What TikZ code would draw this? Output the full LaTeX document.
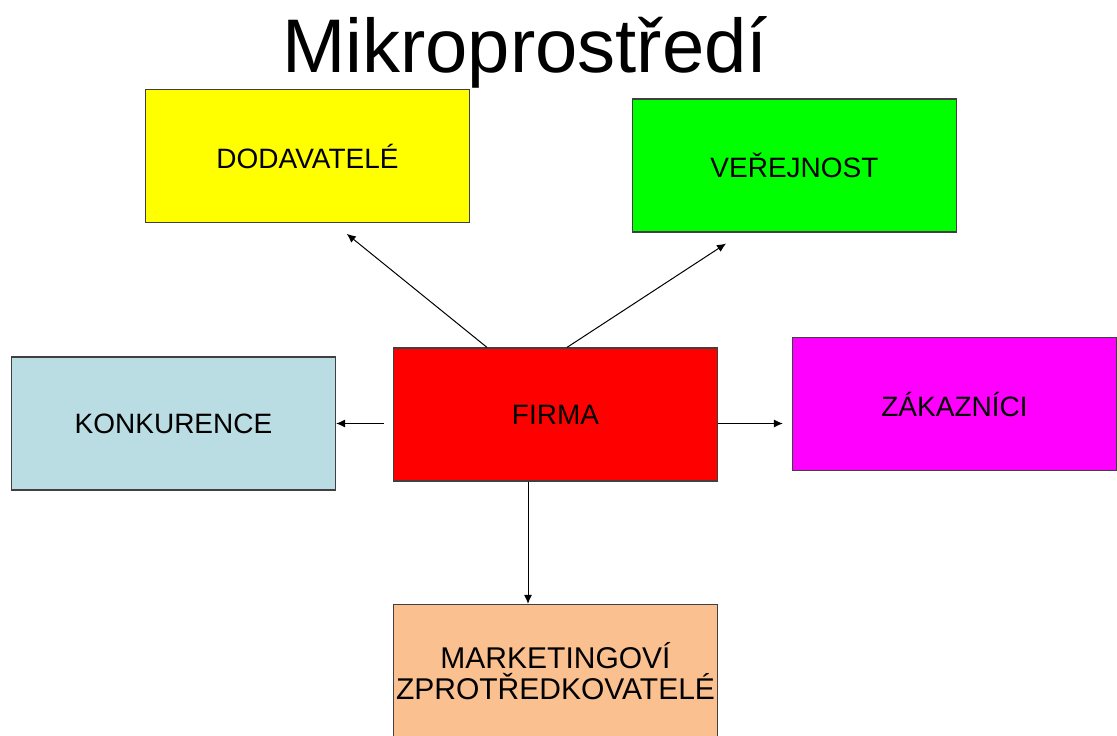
\documentclass[tikz,border=0pt]{standalone}
\usepackage{fontspec}
\setmainfont{Liberation Sans}
\usetikzlibrary{arrows.meta}

\definecolor{dodyellow}{HTML}{FFFF00}
\definecolor{vergreen}{HTML}{00FF00}
\definecolor{konblue}{HTML}{B9DDE3}
\definecolor{firmared}{HTML}{FF0000}
\definecolor{zakmagenta}{HTML}{FF00FF}
\definecolor{markpeach}{HTML}{FAC08F}

\tikzset{
    box/.style={draw=black!75, line width=1.2pt, inner sep=0pt,
        minimum width=324pt, minimum height=133pt, align=center,
        font=\fontsize{28}{31}\selectfont},
    arr/.style={line width=1pt, -{Latex[length=9pt,width=8pt]}}
}

\begin{document}
\begin{tikzpicture}[x=1pt, y=-1pt]
        \useasboundingbox (0,0) rectangle (1117,736);

        \node[font=\fontsize{76}{84}\selectfont, anchor=base] (title) at (525,72) {Mikroprostředí};

        \node[box, fill=dodyellow] (dod) at (307.5,156) {DODAVATELÉ};
        \node[box, fill=vergreen] (ver) at (794.5,165.5) {VEŘEJNOST};
        \node[box, fill=konblue] (kon) at (173.5,423.5) {KONKURENCE};
        \node[box, fill=firmared] (firma) at (555.5,414.5) {FIRMA};
        \node[box, fill=zakmagenta] (zak) at (954.5,404) {ZÁKAZNÍCI};
        \node[box, fill=markpeach, font=\fontsize{30}{31}\selectfont] (mark) at (555.5,671) {MARKETINGOVÍ\\ZPROTŘEDKOVATELÉ};

        \draw[arr, shorten >=17pt] ([xshift=-68.5pt]firma.north) -- ([xshift=26pt]dod.south);
        \draw[arr, shorten >=20pt] ([xshift=11.5pt]firma.north) -- ([xshift=-51.7pt]ver.south);
        \draw[arr, shorten <=9pt] (firma.west |- kon.east) -- (kon.east);
        \draw[arr, shorten >=9pt] (firma.east |- kon.east) -- (zak.west |- kon.east);
        \draw[arr] ([xshift=-27.5pt]firma.south) -- ([xshift=-27.5pt]mark.north);
    \end{tikzpicture}
\end{document}
